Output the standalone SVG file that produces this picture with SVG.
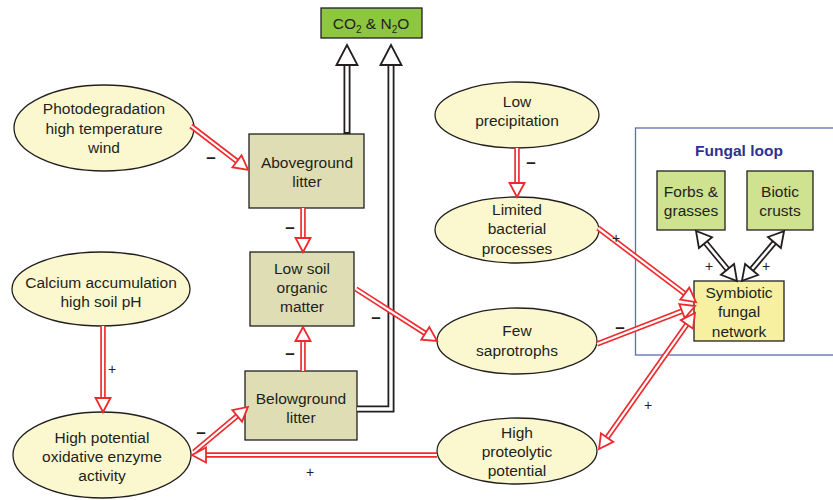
<svg xmlns="http://www.w3.org/2000/svg" width="833" height="500" viewBox="0 0 833 500">
<style>
text{font-family:"Liberation Sans",Arial,sans-serif;font-size:15.5px;fill:#231f20;text-anchor:middle}
.el{fill:#fbf8cf;stroke:#231f20;stroke-width:1.3}
.bx{fill:#dfddb3;stroke:#231f20;stroke-width:1.3}
.gr{fill:#cee28f;stroke:#231f20;stroke-width:1.3}
.sy{fill:#f6f0a0;stroke:#231f20;stroke-width:1.3}
.ro{fill:none;stroke:#ee2a2e;stroke-width:5.5;stroke-linejoin:miter}
.ri{fill:none;stroke:#fff;stroke-width:2.2;stroke-linejoin:miter}
.bo{fill:none;stroke:#231f20;stroke-width:7;stroke-linejoin:miter}
.bi{fill:none;stroke:#fff;stroke-width:3.4;stroke-linejoin:miter}
.so{fill:none;stroke:#231f20;stroke-width:6}
.si{fill:none;stroke:#fff;stroke-width:2.6}
.sg{font-size:17px;font-weight:bold;fill:#231f20}
.pl{font-size:14px;fill:#231f20}
</style>
<defs>
<marker id="rh" markerUnits="userSpaceOnUse" markerWidth="30" markerHeight="30" refX="0" refY="0" orient="auto-start-reverse" overflow="visible" viewBox="-15 -15 30 30">
<path d="M0,-7.5 L14,0 L0,7.5 Z" fill="#fff" stroke="#ee2a2e" stroke-width="1.8"/>
</marker>
<marker id="bh" markerUnits="userSpaceOnUse" markerWidth="40" markerHeight="40" refX="0" refY="0" orient="auto-start-reverse" overflow="visible" viewBox="-20 -20 40 40">
<path d="M0,-10.5 L20,0 L0,10.5 Z" fill="#fff" stroke="#231f20" stroke-width="1.8"/>
</marker>
<marker id="sh" markerUnits="userSpaceOnUse" markerWidth="40" markerHeight="40" refX="0" refY="0" orient="auto-start-reverse" overflow="visible" viewBox="-20 -20 40 40">
<path d="M0,-8.5 L15,0 L0,8.5 Z" fill="#fff" stroke="#231f20" stroke-width="1.8"/>
</marker>
</defs>
<rect width="833" height="500" fill="#fff"/>

<g id="fungal-loop">
<rect x="635.5" y="128" width="210" height="227" fill="none" stroke="#5b6fb6" stroke-width="1.3"/>
<text x="739" y="156" style="font-weight:bold;fill:#2e3192">Fungal loop</text>
</g>

<g id="co2">
<rect x="321" y="8" width="101" height="30" fill="#8dc63f" stroke="#231f20" stroke-width="1.3"/>
<text x="371" y="28.5">CO<tspan font-size="10" dy="4">2</tspan><tspan dy="-4"> &amp; N</tspan><tspan font-size="10" dy="4">2</tspan><tspan dy="-4">O</tspan></text>
</g>

<g id="photodegradation">
<ellipse class="el" cx="104" cy="128" rx="90" ry="43"/>
<text x="104" y="113.5">Photodegradation</text>
<text x="104" y="133.5">high temperature</text>
<text x="104" y="153">wind</text>
</g>

<g id="aboveground">
<rect class="bx" x="249" y="134" width="115" height="74"/>
<text x="307" y="167.5">Aboveground</text>
<text x="307" y="186.5">litter</text>
</g>

<g id="lowsoil">
<rect class="bx" x="250" y="252" width="104" height="74"/>
<text x="302" y="273.5">Low soil</text>
<text x="302" y="292.5">organic</text>
<text x="302" y="312">matter</text>
</g>

<g id="belowground">
<rect class="bx" x="245" y="371" width="112" height="69"/>
<text x="301" y="403.5">Belowground</text>
<text x="301" y="422.5">litter</text>
</g>

<g id="calcium">
<ellipse class="el" cx="101" cy="289" rx="89" ry="37"/>
<text x="101" y="287.5">Calcium accumulation</text>
<text x="101" y="306.5">high soil pH</text>
</g>

<g id="oxidative">
<ellipse class="el" cx="102" cy="455" rx="89" ry="43"/>
<text x="102" y="442.5">High potential</text>
<text x="102" y="461.5">oxidative enzyme</text>
<text x="102" y="480.5">activity</text>
</g>

<g id="lowprecip">
<ellipse class="el" cx="517" cy="115" rx="82" ry="33"/>
<text x="517" y="106.5">Low</text>
<text x="517" y="125.5">precipitation</text>
</g>

<g id="limited">
<ellipse class="el" cx="517" cy="230" rx="82" ry="33"/>
<text x="517" y="214.5">Limited</text>
<text x="517" y="234">bacterial</text>
<text x="517" y="253.5">processes</text>
</g>

<g id="saprotrophs">
<ellipse class="el" cx="517" cy="341" rx="80" ry="33"/>
<text x="517" y="335.5">Few</text>
<text x="517" y="355.5">saprotrophs</text>
</g>

<g id="proteolytic">
<ellipse class="el" cx="517" cy="451" rx="80" ry="33"/>
<text x="517" y="437.5">High</text>
<text x="517" y="456.5">proteolytic</text>
<text x="517" y="475.5">potential</text>
</g>

<g id="forbs">
<rect class="gr" x="657" y="171" width="68" height="59"/>
<text x="691" y="196.5">Forbs &amp;</text>
<text x="691" y="215.5">grasses</text>
</g>

<g id="crusts">
<rect class="gr" x="747" y="171" width="66" height="59"/>
<text x="780" y="196.5">Biotic</text>
<text x="780" y="215.5">crusts</text>
</g>

<g id="symbiotic">
<rect class="sy" x="694" y="281" width="90" height="60"/>
<text x="739" y="297.5">Symbiotic</text>
<text x="739" y="317">fungal</text>
<text x="739" y="336.5">network</text>
</g>

<g id="connectors">
<path class="bo" d="M347,134 V65"/>
<path class="bi" d="M347,132 V65" marker-end="url(#bh)"/>
<path class="bo" d="M357,409 H391 V65"/>
<path class="bi" d="M357,409 H391 V65" marker-end="url(#bh)"/>
<path class="so" d="M705.5,242.6 L727.5,269.4"/>
<path class="si" d="M705.5,242.6 L727.5,269.4" marker-start="url(#sh)" marker-end="url(#sh)"/>
<path class="so" d="M774.4,242.5 L751.6,269.5"/>
<path class="si" d="M774.4,242.5 L751.6,269.5" marker-start="url(#sh)" marker-end="url(#sh)"/>
<path class="ro" d="M191,126 L237,161.3"/>
<path class="ri" d="M191,126 L237,161.3" marker-end="url(#rh)"/>
<path class="ro" d="M303,208 V238"/>
<path class="ri" d="M303,208 V238" marker-end="url(#rh)"/>
<path class="ro" d="M356,289 L425.3,333.4"/>
<path class="ri" d="M356,289 L425.3,333.4" marker-end="url(#rh)"/>
<path class="ro" d="M303,371 V341"/>
<path class="ri" d="M303,371 V341" marker-end="url(#rh)"/>
<path class="ro" d="M517,148 V183"/>
<path class="ri" d="M517,148 V183" marker-end="url(#rh)"/>
<path class="ro" d="M598,228 L684.8,293.6"/>
<path class="ri" d="M598,228 L684.8,293.6" marker-end="url(#rh)"/>
<path class="ro" d="M597,344 L682,311.1"/>
<path class="ri" d="M597,344 L682,311.1" marker-end="url(#rh)"/>
<path class="ro" d="M607.1,437.6 L686.9,324.4"/>
<path class="ri" d="M607.1,437.6 L686.9,324.4" marker-start="url(#rh)" marker-end="url(#rh)"/>
<path class="ro" d="M437,455 H206"/>
<path class="ri" d="M437,455 H206" marker-end="url(#rh)"/>
<path class="ro" d="M194,452 L237.2,415.9"/>
<path class="ri" d="M194,452 L237.2,415.9" marker-end="url(#rh)"/>
<path class="ro" d="M103,326 V398"/>
<path class="ri" d="M103,326 V398" marker-end="url(#rh)"/>
<text class="sg" x="211" y="163">–</text>
<text class="sg" x="290" y="233">–</text>
<text class="sg" x="376" y="323">–</text>
<text class="sg" x="290" y="359">–</text>
<text class="sg" x="531" y="168">–</text>
<text class="sg" x="620" y="333">–</text>
<text class="sg" x="201" y="438">–</text>
<text class="pl" x="616" y="243">+</text>
<text class="pl" x="112" y="374">+</text>
<text class="pl" x="310" y="477">+</text>
<text class="pl" x="648" y="410">+</text>
<text class="pl" x="709" y="271">+</text>
<text class="pl" x="766" y="271">+</text>
</g>
</svg>
